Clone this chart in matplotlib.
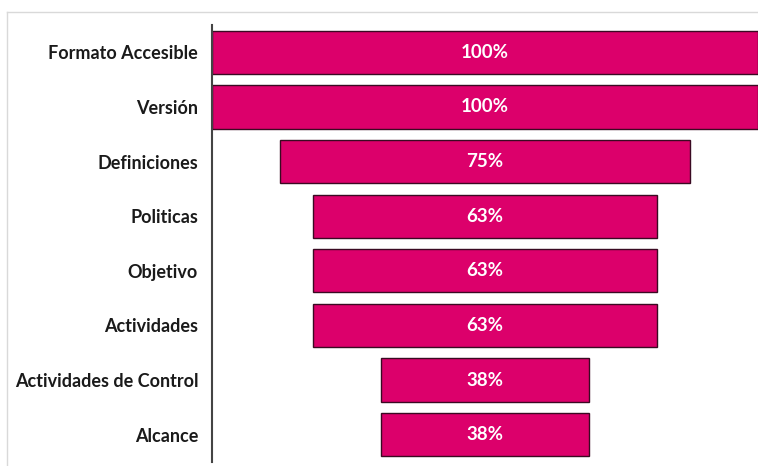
import matplotlib.pyplot as plt
from matplotlib.lines import Line2D

# Funnel data: categories top to bottom and their percentages
categories = ['Formato Accesible', 'Versión', 'Definiciones', 'Politicas',
              'Objetivo', 'Actividades', 'Actividades de Control', 'Alcance']
values = [100, 100, 75, 63, 63, 63, 38, 38]

bar_color = '#DC006B'
edge_color = '#3A0A22'

plt.rcParams['font.family'] = ['Lato', 'DejaVu Sans']

fig = plt.figure(figsize=(7.58, 4.66), dpi=100)
ax = fig.add_axes([212 / 758, 4 / 466, 546 / 758, 437 / 466])

ypos = list(range(len(categories)))
# Center each bar on zero so the bars form a funnel
lefts = [-v / 2 for v in values]
ax.barh(ypos, values, left=lefts, height=0.79, color=bar_color,
        edgecolor=edge_color, linewidth=1.0)

for y, v in zip(ypos, values):
    ax.text(0, y, f'{v}%', ha='center', va='center', color='white',
            fontsize=13.5, fontweight='bold')

ax.set_xlim(-50, 50)
ax.set_ylim(len(categories) - 0.5, -0.5)
ax.set_yticks(ypos)
ax.set_yticklabels(categories, fontsize=13, fontweight='bold', color='#1a1a1a')
ax.tick_params(axis='y', length=0, pad=10)
ax.set_xticks([])
for side in ['top', 'right', 'bottom']:
    ax.spines[side].set_visible(False)
ax.spines['left'].set_color('#444444')
ax.spines['left'].set_linewidth(1.5)

# Light outer chart border
fig.add_artist(Line2D([7 / 758, 1.0], [1 - 12 / 466, 1 - 12 / 466],
                      color='#d9d9d9', linewidth=1.0))
fig.add_artist(Line2D([7 / 758, 7 / 758], [0, 1 - 12 / 466],
                      color='#d9d9d9', linewidth=1.0))

plt.savefig('out.png', dpi=100)
plt.close()
